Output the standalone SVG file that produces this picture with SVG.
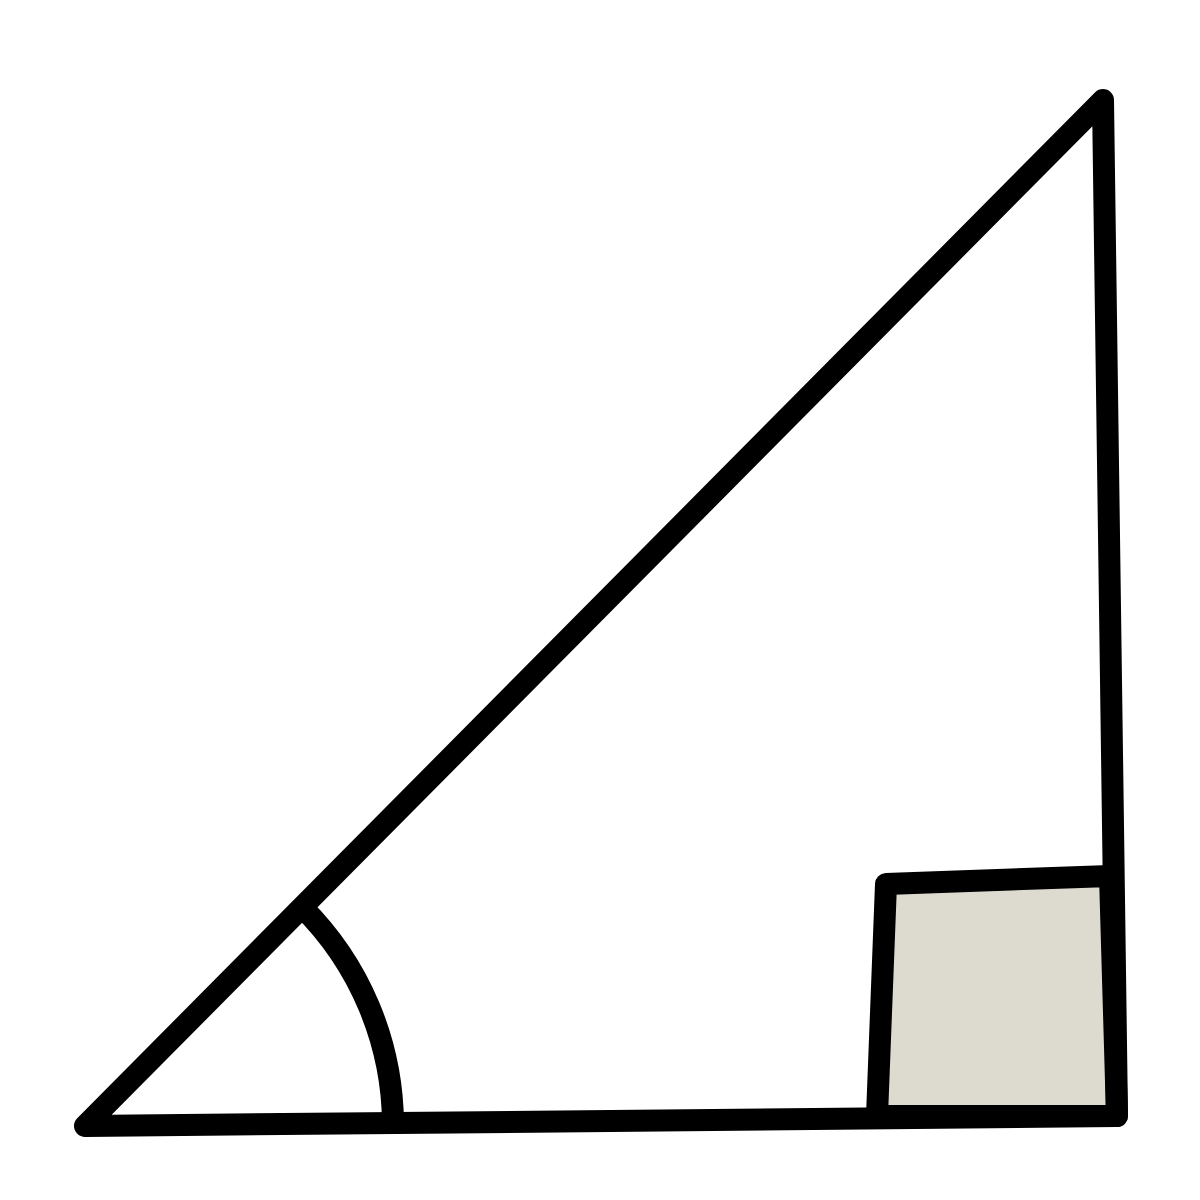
<svg xmlns="http://www.w3.org/2000/svg" width="1200" height="1200" viewBox="0 0 1200 1200">
<style>
.s{stroke:#000;stroke-width:22;stroke-linejoin:round;stroke-linecap:round}
</style>
<rect width="1200" height="1200" fill="#fff"/>
<g id="right-angle">
<path class="s" d="M877,1116 L886,884 L1110,876 L1117,1116 Z" fill="#DDDBD0"/>
</g>
<g id="triangle">
<path class="s" d="M85,1126 L1103,100 L1117,1116 Z" fill="none"/>
</g>
<g id="angle-arc">
<path d="M302,907 A308,308 0 0 1 393,1123" fill="none" stroke="#000" stroke-width="22"/>
</g>
</svg>
